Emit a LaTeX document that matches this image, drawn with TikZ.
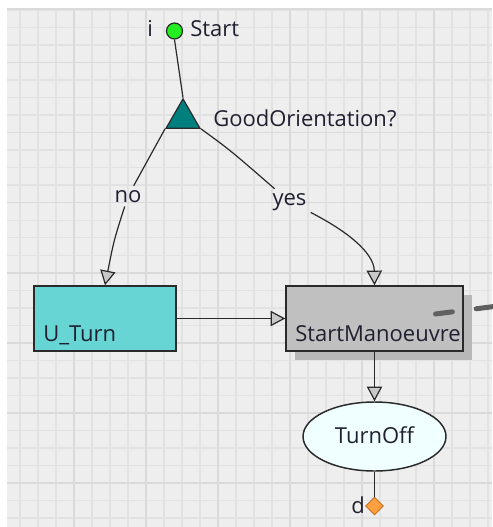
\documentclass[tikz,border=0pt]{standalone}
\usepackage{fontspec}
\setmainfont{Open Sans}
\usetikzlibrary{shapes.geometric,arrows.meta,shadows}

\definecolor{canvasbg}{HTML}{EEEEEE}
\definecolor{gridminor}{HTML}{E2E2E2}
\definecolor{gridmajor}{HTML}{DADADA}
\definecolor{inkcol}{HTML}{202030}
\definecolor{edgecol}{HTML}{2A2A2A}
\definecolor{tipfill}{HTML}{C8C8C8}
\definecolor{startgreen}{HTML}{22EE22}
\definecolor{tealfill}{HTML}{007F7F}
\definecolor{cyanfill}{HTML}{66D5D3}
\definecolor{greyfill}{HTML}{C0C0C0}
\definecolor{shadowgrey}{HTML}{B8B8B8}
\definecolor{azurefill}{HTML}{F0FFFF}
\definecolor{orangefill}{HTML}{FFA040}
\definecolor{orangeedge}{HTML}{C07020}
\definecolor{dashgrey}{HTML}{606060}

\begin{document}
\begin{tikzpicture}[x=0.75pt,y=-0.75pt,
  txt/.style={font=\fontsize{16.5pt}{18pt}\selectfont, text=inkcol, inner sep=0pt},
  lbl/.style={font=\fontsize{16.5pt}{18pt}\selectfont, text=inkcol, inner sep=3pt},
  startdot/.style={circle, draw=edgecol, line width=0.9pt, fill=startgreen, minimum size=12pt, inner sep=0pt},
  decision/.style={regular polygon, regular polygon sides=3, draw=edgecol, line width=0.9pt, fill=tealfill, minimum size=29.4pt, inner sep=0pt},
  actbox/.style={rectangle, draw=edgecol, line width=1.1pt, minimum height=48.75pt, inner sep=0pt},
  endell/.style={ellipse, draw=edgecol, line width=1.1pt, fill=azurefill, minimum width=107.25pt, minimum height=51.75pt, inner sep=0pt, font=\fontsize{16.5pt}{18pt}\selectfont, text=inkcol},
  finaldiam/.style={diamond, draw=orangeedge, line width=0.7pt, fill=orangefill, minimum size=13.5pt, inner sep=0pt},
  conn/.style={draw=edgecol, line width=0.9pt},
  arr/.style={conn, -{Triangle[length=11pt, width=11.5pt, fill=tipfill]}},
  dashmark/.style={draw=dashgrey, line width=3.75pt, line cap=round, dash pattern=on 12.75pt off 18pt}
]
\useasboundingbox (0,0) rectangle (492,527);
\fill[white] (0,0) rectangle (492,527);

% background grid
\fill[canvasbg] (7,8) rectangle (492,527);
\foreach \j in {0,...,26} {
  \draw[gridminor, line width=1.1pt] ({20+18*\j},8) -- ({20+18*\j},527);
}
\foreach \i in {0,...,29} {
  \draw[gridminor, line width=1.1pt] (7,{10+17.52*\i}) -- (492,{10+17.52*\i});
}
\foreach \j in {3,7,...,23} {
  \draw[gridmajor, line width=1.1pt] ({20+18*\j},8) -- ({20+18*\j},527);
}
\foreach \i in {3,7,...,27} {
  \draw[gridmajor, line width=1.1pt] (7,{10+17.52*\i}) -- (492,{10+17.52*\i});
}
\draw[gridmajor, line width=1.1pt] (7,9) -- (492,9);

% start
\node[startdot] (start) at (174.5,31) {};
\node[txt, anchor=base west] (itxt) at (147,37) {i};
\node[txt, anchor=base west] (starttxt) at (190,37) {Start};

% decision
\node[decision] (tri) at (183,118.5) {};
\node[txt, anchor=base west] (tritxt) at (213,127) {GoodOrientation?};

% actions
\node[actbox, fill=cyanfill, minimum width=106.5pt] (uturn) at (105,318.5) {};
\node[txt, anchor=base west] (uturntxt) at (43,341) {U\_Turn};

\node[actbox, fill=greyfill, minimum width=132.75pt,
      drop shadow={shadow xshift=6.75pt, shadow yshift=-6.75pt, fill=shadowgrey, opacity=1}] (sm) at (374.5,318.5) {};
\node[txt, anchor=base west] (smtxt) at (295,341) {StartManoeuvre};

% end
\node[endell, text depth=2pt] (off) at (374.5,436.5) {TurnOff};
\node[finaldiam] (fin) at (374.5,506) {};
\node[txt, anchor=base west] (dtxt) at (351,513) {d};

% guard labels
\node[lbl, anchor=base] (no) at (128,202) {no};
\node[lbl, anchor=base] (yes) at (289.5,205) {yes};

% connectors
\draw[conn] (start.south) -- (tri.corner 1);
\draw[conn] (tri.corner 2) -- (no);
\draw[arr] (no) .. controls (114,240) .. (uturn.north);
\draw[conn] (tri.corner 3) .. controls (230,150) .. (yes);
\draw[arr] (yes) .. controls (345,230) and (374,252) .. (sm.north);
\draw[arr] (uturn.east) -- (sm.west);
\draw[arr] (sm.south) -- (off.north);
\draw[conn] (off.south) -- (fin.north);

% outgoing dashed mark
\coordinate (dashA) at (435.5,314);
\coordinate (dashB) at (494,306.5);
\draw[dashmark] (dashA) -- (dashB);
\end{tikzpicture}
\end{document}
